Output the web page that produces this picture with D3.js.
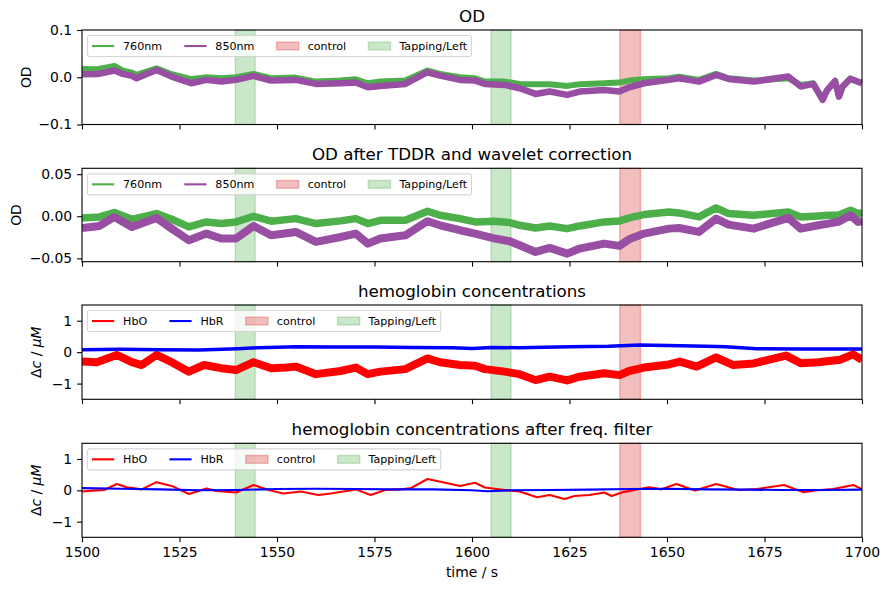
<!DOCTYPE html>
<html>
<head>
<meta charset="utf-8">
<script src="https://cdn.jsdelivr.net/npm/d3@7"></script>
<style>
  body { margin: 0; background: #fff; }
  svg { font-family: "DejaVu Sans", sans-serif; }
</style>
</head>
<body>
<script>
// ---- data ----
const xTicks = [1500, 1525, 1550, 1575, 1600, 1625, 1650, 1675, 1700]

// tapping / control intervals (s)
const tapping = [[1539.3, 1544.4], [1604.9, 1610.0]]
const control = [[1637.9, 1643.2]]

// panel 1: raw OD
const t1 = [1500, 1504, 1508.3, 1510.5, 1512.8, 1514, 1519.1, 1523, 1528, 1531.9, 1535.7, 1539.5, 1544, 1548.5, 1554.8,
  1560, 1566.3, 1570.2, 1573.3, 1576.5, 1582.9, 1588.6, 1591.8, 1596.9, 1600.8, 1603.3, 1608.4, 1612.2, 1616.3, 1619.9,
  1624.4, 1627.6, 1633.9, 1637.8, 1640.3, 1644.1, 1650.5, 1653.1, 1658.2, 1662.6, 1665.8, 1672.2, 1681.1, 1684.3, 1687.5,
  1689.9, 1691, 1693.1, 1694.1, 1695, 1697, 1698.5, 1700]
const od760 = [0.0176, 0.017, 0.024, 0.0141, 0.0099, 0.0049, 0.019, 0.0063, -0.0042, 0.0, -0.0021, 0.0, 0.007, -0.0021, -0.0007,
  -0.0092, -0.0071, -0.0042, -0.0127, -0.0092, -0.0071, 0.0141, 0.007, 0.0, -0.0021, -0.0092, -0.0092, -0.0141, -0.0148, -0.0148,
  -0.0183, -0.0148, -0.0127, -0.0113, -0.0071, -0.0042, -0.0021, 0.0014, -0.0056, 0.007, -0.0021, -0.0071, -0.0021, -0.0162, -0.0127,
  -0.046, -0.028, -0.008, -0.040, -0.02, -0.003, -0.008, -0.0128]
const od850 = [0.0063, 0.007, 0.0141, 0.007, 0.0028, -0.0021, 0.0155, 0.0014, -0.0127, -0.0056, -0.0092, -0.0056, 0.0028, -0.0071, -0.0056,
  -0.0141, -0.0127, -0.0113, -0.0212, -0.0183, -0.0141, 0.0106, 0.0035, -0.0056, -0.0071, -0.0141, -0.0162, -0.0233, -0.0353, -0.0303,
  -0.0374, -0.0303, -0.0268, -0.0303, -0.0212, -0.0127, -0.0056, -0.0021, -0.0092, 0.0049, -0.0035, -0.0092, 0.0014, -0.0197, -0.0141,
  -0.048, -0.028, -0.008, -0.041, -0.02, -0.003, -0.008, -0.0128]

// panel 2: OD after TDDR + wavelet
const t2 = [1500, 1504.5, 1508.3, 1512.8, 1519.1, 1523, 1527.4, 1531.9, 1535.7, 1539.5, 1544, 1548.5, 1554.8, 1560, 1566.3,
  1570.2, 1573.3, 1576.5, 1582.9, 1588.6, 1591.8, 1596.9, 1600.8, 1605.9, 1609.7, 1612.2, 1616.3, 1619.9, 1624.4, 1627.6,
  1633.9, 1637.8, 1640.3, 1644.1, 1650.5, 1653.1, 1658.2, 1662.6, 1665.8, 1672.2, 1681.1, 1684.3, 1688.8, 1691.4, 1693.9,
  1697.1, 1699, 1700]
const od760c = [-0.002, -0.0008, 0.0044, -0.0036, 0.0032, -0.0036, -0.0127, -0.0067, -0.0087, -0.0067, 0.0, -0.0059, -0.0028, -0.0087, -0.0055,
  -0.0028, -0.0087, -0.0048, -0.0048, 0.0059, 0.0012, -0.0028, -0.0067, -0.0059, -0.0075, -0.0107, -0.0139, -0.0115, -0.0147, -0.0115,
  -0.0067, -0.0055, -0.002, 0.002, 0.0051, 0.004, -0.0008, 0.0099, 0.0032, 0.0012, 0.0051, -0.0008, 0.0004, 0.0012, 0.0012,
  0.0071, 0.0032, 0.0044]
const od850c = [-0.0139, -0.0115, -0.0008, -0.0127, -0.002, -0.0147, -0.0285, -0.0206, -0.0265, -0.0265, -0.0115, -0.0226, -0.0186, -0.0305, -0.0246,
  -0.0206, -0.0325, -0.0265, -0.0226, -0.0059, -0.0107, -0.0166, -0.0206, -0.0265, -0.0297, -0.0345, -0.0424, -0.0376, -0.0444, -0.0384,
  -0.0325, -0.0352, -0.0273, -0.0206, -0.0147, -0.0139, -0.0186, -0.0028, -0.0099, -0.0147, -0.002, -0.0147, -0.0107, -0.0087, -0.0067,
  0.0012, -0.0067, -0.0059]

// panel 3: hemoglobin concentrations
const t3 = [1500, 1503.8, 1508.9, 1512.8, 1515.3, 1519.1, 1523, 1527.4, 1531.3, 1535.7, 1539.5, 1544, 1548.5, 1552.3, 1554.8,
  1560, 1566.3, 1570.2, 1573.3, 1576.5, 1582.9, 1588.6, 1591.8, 1596.9, 1600.8, 1603.3, 1608.4, 1612.2, 1616.3, 1619.9,
  1624.4, 1627.6, 1633.9, 1637.8, 1640.3, 1644.1, 1650.5, 1653.3, 1657.6, 1662.6, 1667, 1672.2, 1680.5, 1684.3, 1688.8,
  1694.4, 1697.7, 1700]
const hbo = [-0.30, -0.32, -0.09, -0.32, -0.41, -0.09, -0.32, -0.62, -0.41, -0.51, -0.57, -0.32, -0.51, -0.49, -0.46,
  -0.70, -0.60, -0.49, -0.70, -0.62, -0.54, -0.20, -0.32, -0.41, -0.43, -0.54, -0.62, -0.70, -0.89, -0.78,
  -0.90, -0.78, -0.67, -0.73, -0.60, -0.49, -0.39, -0.30, -0.46, -0.17, -0.41, -0.36, -0.11, -0.35, -0.32,
  -0.24, -0.07, -0.24]
const t3b = [1500, 1510, 1520, 1530, 1540, 1545, 1555, 1565, 1575, 1585, 1595, 1600, 1605, 1612, 1625, 1635, 1643, 1650, 1660, 1665, 1673, 1685, 1700]
const hbr = [0.08, 0.09, 0.08, 0.07, 0.11, 0.14, 0.17, 0.16, 0.16, 0.15, 0.14, 0.12, 0.15, 0.14, 0.17, 0.19, 0.23, 0.21, 0.19, 0.17, 0.11, 0.10, 0.10]

// panel 4: after freq. filter
const t4 = [1500, 1502.6, 1505.7, 1508.9, 1511.5, 1515.3, 1519.1, 1523, 1527.4, 1531.9, 1534.4, 1539.5, 1544, 1547.8, 1551.6,
  1556.1, 1560.6, 1563.8, 1567, 1570.2, 1574, 1577.8, 1581.6, 1584.2, 1588.6, 1593.1, 1596.9, 1600.8, 1603.3, 1608.4,
  1612.2, 1616.7, 1619.9, 1623.7, 1626.3, 1630.1, 1633.9, 1635.8, 1639, 1643, 1645.4, 1648.6, 1652.4, 1657.2, 1662.6,
  1668.3, 1673, 1680, 1685, 1688.5, 1692.6, 1697.8, 1700]
const hboF = [-0.04, -0.01, 0.01, 0.20, 0.10, 0.03, 0.26, 0.14, -0.12, 0.06, -0.02, -0.07, 0.17, 0.01, -0.10,
  -0.04, -0.15, -0.10, -0.04, 0.03, -0.15, 0.01, 0.03, 0.06, 0.36, 0.24, 0.14, 0.24, 0.09, 0.01,
  -0.04, -0.22, -0.15, -0.28, -0.18, -0.15, -0.07, -0.18, -0.05, 0.04, 0.10, 0.03, 0.20, -0.01, 0.20,
  0.01, 0.04, 0.17, -0.06, 0.0, 0.04, 0.17, 0.04]
const t4b = [1500, 1510, 1520, 1530, 1540, 1550, 1560, 1570, 1580, 1590, 1600, 1604, 1610, 1620, 1630, 1640, 1650, 1660, 1670, 1680, 1690, 1700]
const hbrF = [0.07, 0.05, 0.03, 0.0, 0.01, 0.04, 0.05, 0.04, 0.03, 0.03, 0.0, -0.03, 0.0, 0.01, 0.02, 0.04, 0.05, 0.03, 0.02, 0.01, 0.01, 0.02]

// ---- layout ----
const W = 889, H = 590
const left = 82, right = 862
const fsTick = 13.9, fsLeg = 11.1, fsTitle = 16.7

const C760 = "#4daf4a", C850 = "#984ea3"
const CCTRL = "#d62728", CTAP = "#2ca02c"

const minus = s => s.replace("-", "\u2212")

const panels = [
  { top: 30, bottom: 124.5, domain: [-0.1, 0.1], yticks: [-0.1, 0, 0.1], fmt: d => minus(d.toFixed(1)),
    title: "OD", ylab: "OD", ylx: 26,
    series: [{ t: t1, v: od760, color: C760, w: 6 }, { t: t1, v: od850, color: C850, w: 6.5 }],
    legend: [["760nm", "line", C760], ["850nm", "line", C850]] },
  { top: 168.3, bottom: 261.7, domain: [-0.054, 0.057], yticks: [-0.05, 0, 0.05], fmt: d => minus(d.toFixed(2)),
    title: "OD after TDDR and wavelet correction", ylab: "OD", ylx: 16,
    series: [{ t: t2, v: od760c, color: C760, w: 7.5 }, { t: t2, v: od850c, color: C850, w: 8 }],
    legend: [["760nm", "line", C760], ["850nm", "line", C850]] },
  { top: 305, bottom: 399.3, domain: [-1.5, 1.5], yticks: [-1, 0, 1], fmt: d => minus(String(d)),
    title: "hemoglobin concentrations", ylab: "conc", ylx: 36,
    series: [{ t: t3, v: hbo, color: "red", w: 8 }, { t: t3b, v: hbr, color: "blue", w: 3.5 }],
    legend: [["HbO", "line", "red"], ["HbR", "line", "blue"]] },
  { top: 443.3, bottom: 537.3, domain: [-1.5, 1.5], yticks: [-1, 0, 1], fmt: d => minus(String(d)),
    title: "hemoglobin concentrations after freq. filter", ylab: "conc", ylx: 36,
    series: [{ t: t4, v: hboF, color: "red", w: 2.1 }, { t: t4b, v: hbrF, color: "blue", w: 2.1 }],
    legend: [["HbO", "line", "red"], ["HbR", "line", "blue"]] }
]

const svg = d3.select("body").append("svg")
  .attr("width", W).attr("height", H)

const x = d3.scaleLinear().domain([1500, 1700]).range([left, right])

panels.forEach((p, i) => {
  const y = d3.scaleLinear().domain(p.domain).range([p.bottom, p.top])
  const g = svg.append("g")

  // clip to the axes box
  g.append("clipPath").attr("id", "clip" + i)
    .append("rect").attr("x", left).attr("y", p.top)
    .attr("width", right - left).attr("height", p.bottom - p.top)

  // spans (below the lines)
  const spans = control.map(s => [s, CCTRL, 0.3]).concat(tapping.map(s => [s, CTAP, 0.25]))
  g.selectAll(".span").data(spans).enter().append("rect")
    .attr("x", d => x(d[0][0])).attr("width", d => x(d[0][1]) - x(d[0][0]))
    .attr("y", p.top).attr("height", p.bottom - p.top)
    .attr("fill", d => d[1]).attr("fill-opacity", d => d[2])
    .attr("stroke", d => d[1]).attr("stroke-opacity", d => d[2]).attr("stroke-width", 1.4)

  // lines
  p.series.forEach(s => {
    const pts = s.t.map((t, k) => [t, s.v[k]])
    g.append("path").datum(pts)
      .attr("clip-path", "url(#clip" + i + ")")
      .attr("fill", "none").attr("stroke", s.color)
      .attr("stroke-width", s.w).attr("stroke-linejoin", "round")
      .attr("d", d3.line().x(d => x(d[0])).y(d => y(d[1])))
  })

  // x axis (labels only on the last panel)
  const ax = d3.axisBottom(x).tickValues(xTicks).tickSize(4.9).tickPadding(4.9)
    .tickFormat(i < 3 ? "" : d3.format("d"))
  const gx = g.append("g").attr("transform", "translate(0," + p.bottom + ")").call(ax)
  // y axis
  const gy = g.append("g").attr("transform", "translate(" + left + ",0)")
    .call(d3.axisLeft(y).tickValues(p.yticks).tickFormat(p.fmt).tickSize(4.9).tickPadding(4.9))
  ;[gx, gy].forEach(a => {
    a.select(".domain").remove()
    a.selectAll("line").attr("stroke", "#000").attr("stroke-width", 1.1)
    a.selectAll("text").attr("font-size", fsTick).attr("fill", "#000")
      .style("font-family", "DejaVu Sans")
  })

  // spines
  g.append("rect").attr("x", left).attr("y", p.top)
    .attr("width", right - left).attr("height", p.bottom - p.top)
    .attr("fill", "none").attr("stroke", "#000").attr("stroke-width", 1.1)

  // title
  g.append("text").attr("x", (left + right) / 2).attr("y", p.top - 8.3)
    .attr("text-anchor", "middle").attr("font-size", fsTitle).text(p.title)

  // y label
  const yl = g.append("text")
    .attr("transform", "translate(" + p.ylx + "," + (p.top + p.bottom) / 2 + ") rotate(-90)")
    .attr("text-anchor", "middle").attr("dominant-baseline", "central").attr("font-size", fsTick)
  if (p.ylab == "OD") yl.text("OD")
  else {
    yl.append("tspan").text("\u0394")
    yl.append("tspan").attr("font-style", "italic").text("c")
    yl.append("tspan").text(" / ")
    yl.append("tspan").attr("font-style", "italic").text("\u03bcM")
  }

  // legend
  const items = p.legend.concat([["control", "patch", CCTRL, 0.3], ["Tapping/Left", "patch", CTAP, 0.25]])
  const lg = g.append("g")
  const box = lg.append("rect")
  const bx = left + 0.5 * fsLeg, by = p.top + 0.5 * fsLeg
  const pad = 0.4 * fsLeg, hl = 2 * fsLeg, htp = 0.8 * fsLeg, cs = 2 * fsLeg
  const rowH = fsLeg * 1.0
  const cy = by + pad + rowH / 2 + 0.5
  let cx = bx + pad
  items.forEach((it, k) => {
    if (it[1] == "line") {
      lg.append("line").attr("x1", cx).attr("x2", cx + hl).attr("y1", cy).attr("y2", cy)
        .attr("stroke", it[2]).attr("stroke-width", 2.1)
    } else {
      lg.append("rect").attr("x", cx).attr("y", cy - 0.35 * fsLeg)
        .attr("width", hl).attr("height", 0.7 * fsLeg)
        .attr("fill", it[2]).attr("fill-opacity", it[3])
        .attr("stroke", it[2]).attr("stroke-opacity", it[3]).attr("stroke-width", 1.4)
    }
    const tx = lg.append("text").attr("x", cx + hl + htp).attr("y", cy)
      .attr("dominant-baseline", "central").attr("font-size", fsLeg).text(it[0])
    cx = cx + hl + htp + tx.node().getComputedTextLength()
    if (k < items.length - 1) cx += cs
  })
  box.attr("x", bx).attr("y", by).attr("rx", 2.2)
    .attr("width", cx + pad - bx).attr("height", rowH + 2 * pad + 1)
    .attr("fill", "#fff").attr("fill-opacity", 0.8)
    .attr("stroke", "#ccc").attr("stroke-opacity", 0.8).attr("stroke-width", 1.1)
})

// x label
svg.append("text").attr("x", (left + right) / 2).attr("y", 577)
  .attr("text-anchor", "middle").attr("font-size", fsTick).text("time / s")
</script>
</body>
</html>
